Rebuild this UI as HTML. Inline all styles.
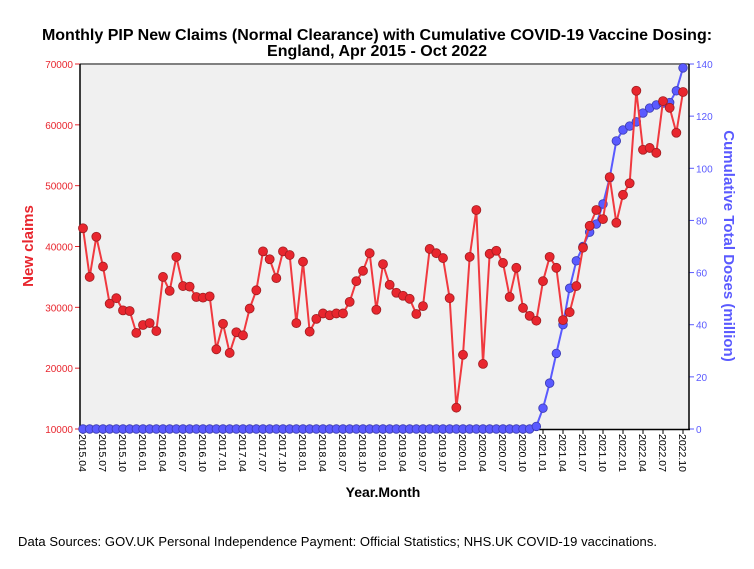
<!DOCTYPE html>
<html><head><meta charset="utf-8"><style>
body{margin:0;background:#fff;font-family:"Liberation Sans",sans-serif}
svg text{font-family:"Liberation Sans",sans-serif}
</style></head><body>
<svg id="c" width="754" height="564">
<rect x="0" y="0" width="754" height="564" fill="#fff"/>
<text x="377" y="40" text-anchor="middle" font-size="16" font-weight="bold">Monthly PIP New Claims (Normal Clearance) with Cumulative COVID-19 Vaccine Dosing:</text>
<text x="377" y="56" text-anchor="middle" font-size="16" font-weight="bold">England, Apr 2015 - Oct 2022</text>
<rect x="80" y="64" width="609" height="365" fill="#f0f0f0"/>
<line x1="80" y1="64" x2="689" y2="64" stroke="#808080" stroke-width="2"/>
<text transform="translate(33,246) rotate(-90)" text-anchor="middle" font-size="15" font-weight="bold" fill="#e8262e">New claims</text>
<text transform="translate(724,246) rotate(90)" text-anchor="middle" font-size="15" font-weight="bold" fill="#5a5aff">Cumulative Total Doses (million)</text>
<text x="383" y="497" text-anchor="middle" font-size="14" font-weight="bold">Year.Month</text>
<text x="18" y="546" font-size="13" textLength="639">Data Sources: GOV.UK Personal Independence Payment: Official Statistics;  NHS.UK COVID-19 vaccinations.</text>
<g id="g"></g>
</svg>
<script>
const claims=[43000,35000,41600,36700,30600,31500,29500,29400,25800,27100,27400,26100,35000,32700,38300,33500,33400,31700,31600,31800,23100,27300,22500,25900,25400,29800,32800,39200,37900,34800,39200,38600,27400,37500,26000,28100,29000,28700,29000,29000,30900,34300,36000,38900,29600,37100,33700,32400,31900,31400,28900,30200,39600,38900,38100,31500,13500,22200,38300,46000,20700,38800,39300,37300,31700,36500,29900,28600,27800,34300,38300,36500,27900,29200,33500,39800,43400,46000,44500,51400,43900,48500,50400,65600,55900,56200,55400,63900,62800,58700,65400];
const doses=[0,0,0,0,0,0,0,0,0,0,0,0,0,0,0,0,0,0,0,0,0,0,0,0,0,0,0,0,0,0,0,0,0,0,0,0,0,0,0,0,0,0,0,0,0,0,0,0,0,0,0,0,0,0,0,0,0,0,0,0,0,0,0,0,0,0,0,0,1,8,17.6,29,40,54,64.5,70,75.5,78.6,86.3,96.3,110.5,114.7,116.2,117.8,121.2,123.1,124.3,125,125.2,129.7,138.5];
const leftTicks=[10000,20000,30000,40000,50000,60000,70000];
const rightTicks=[0,20,40,60,80,100,120,140];
const NS="http://www.w3.org/2000/svg";
const g=document.getElementById('g');
const x=i=>83+i*600/90;
const yL=v=>429-(v-10000)/60000*365;
const yR=v=>429-v/140*365;
function el(t,a){const e=document.createElementNS(NS,t);for(const k in a)e.setAttribute(k,a[k]);g.appendChild(e);return e;}
function label(i){const y=2015+Math.floor((i+3)/12);const m=(i+3)%12+1;return y+"."+(m<10?"0":"")+m;}
leftTicks.forEach(v=>{
 const t=el('line',{x1:75,x2:80,y1:yL(v),y2:yL(v),stroke:'#e8262e'});
 
 const s=el('text',{x:73,y:yL(v)+4,'text-anchor':'end','font-size':10,fill:'#e8262e'});s.textContent=v;
 
});
rightTicks.forEach(v=>{
 const t=el('line',{x1:689,x2:694,y1:yR(v),y2:yR(v),stroke:'#5a5aff'});
 
 const s=el('text',{x:696,y:yR(v)+4,'font-size':10,fill:'#5a5aff'});s.textContent=v;
 
});
for(let i=0;i<claims.length;i+=3){
 const t=el('line',{x1:x(i),x2:x(i),y1:429,y2:434,stroke:'#000'});
 
 const s=el('text',{transform:`translate(${x(i)-4},434) rotate(90)`,'font-size':10.5});s.textContent=label(i);
 
}
el('line',{x1:80,y1:64,x2:80,y2:430,stroke:'#000','stroke-width':1.5});
el('line',{x1:79,y1:429.5,x2:690,y2:429.5,stroke:'#000','stroke-width':1.5});
el('line',{x1:689,y1:64,x2:689,y2:430,stroke:'#000','stroke-width':1.5});
const bl=el('polyline',{points:doses.map((v,i)=>x(i)+","+yR(v)).join(" "),fill:'none',stroke:'#5a5aff','stroke-width':2});

doses.forEach((v,i)=>{const c=el('circle',{cx:x(i),cy:yR(v),r:4.3,fill:'#5a5aff',stroke:'#3a3ab0','stroke-width':0.8});
 });
const rl=el('polyline',{points:claims.map((v,i)=>x(i)+","+yL(v)).join(" "),fill:'none',stroke:'#f0393f','stroke-width':2});

claims.forEach((v,i)=>{const c=el('circle',{cx:x(i),cy:yL(v),r:4.5,fill:'#e8262e',stroke:'#a01c20','stroke-width':0.8});
 });
</script>
</body></html>
